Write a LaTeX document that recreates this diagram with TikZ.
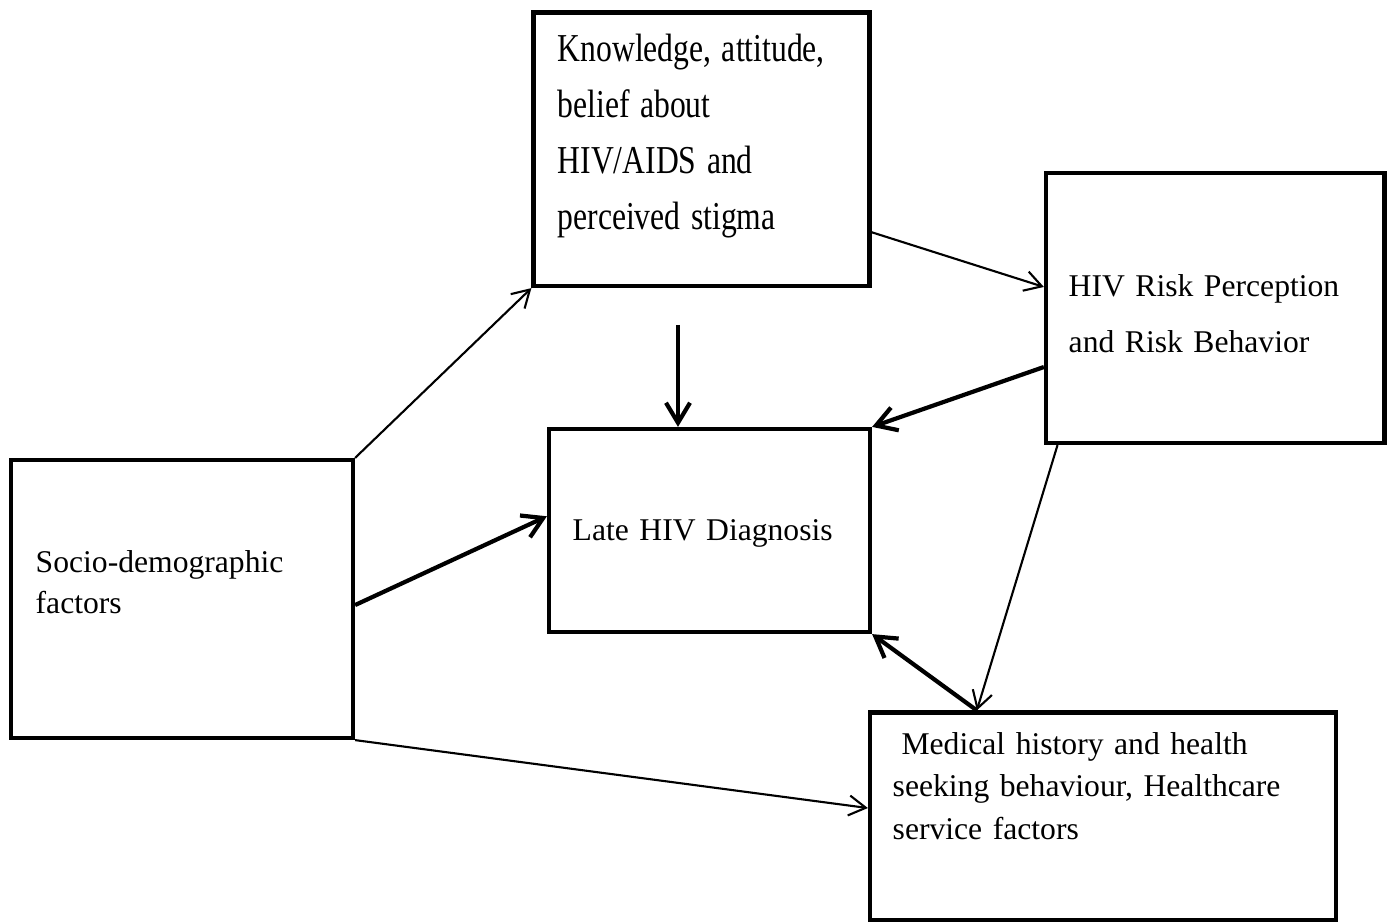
\documentclass[tikz,border=0pt]{standalone}
\usepackage{fontspec}
\setmainfont{Liberation Serif}
\usepackage{tikz}
\usetikzlibrary{arrows.meta}

\tikzset{
  box/.style={draw, line width=1.2pt, inner sep=0pt},
  txt/.style={inner sep=0pt, anchor=base west, align=left, text width=5cm},
  thinarrow/.style={line width=0.6pt, -{Straight Barb[length=1.7mm, width=2mm]}},
  thickarrow/.style={line width=1.2pt, -{Straight Barb[length=2mm, width=2.4mm]}}
}

\begin{document}
\begin{tikzpicture}
  \useasboundingbox (0,0) rectangle (13.88,9.23);

  % Draw the boxes
  \node[box, minimum width=3.36cm, minimum height=2.735cm] (know) at (7.015,7.7375) {};
  \node[box, minimum width=3.385cm, minimum height=2.70cm] (risk) at (12.1525,6.15) {};
  \node[box, minimum width=3.21cm, minimum height=2.03cm] (late) at (7.095,3.925) {};
  \node[box, minimum width=3.42cm, minimum height=2.78cm] (socio) at (1.82,3.24) {};
  \node[box, minimum width=4.66cm, minimum height=2.075cm] (med) at (11.03,1.0675) {};

  % Texts of the boxes
  \begin{scope}[shift={(5.57,8.61)}, yscale=1.25]
    \node[txt, transform shape, font={\fontsize{9}{12.7}\selectfont}] (knowtext) at (0,0)
      {Knowledge, attitude,\\ belief about\\ HIV/AIDS and\\ perceived stigma};
  \end{scope}
  \node[txt, font={\fontsize{9}{15.9}\selectfont}] (risktext) at (10.68,6.26)
    {HIV Risk Perception\\ and Risk Behavior};
  \node[txt, font={\fontsize{9}{12}\selectfont}] (latetext) at (5.72,3.83)
    {Late HIV Diagnosis};
  \node[txt, font={\fontsize{9}{11.7}\selectfont}] (sociotext) at (0.35,3.51)
    {Socio-demographic\\ factors};
  \node[txt, font={\fontsize{9}{12.2}\selectfont}] (medtext) at (8.92,1.69)
    {\hspace*{0.28em}Medical history and health\\ seeking behaviour, Healthcare\\ service factors};

  % Thin arrows
  \draw[thinarrow] (socio.north east) -- (know.south west);
  \draw[thinarrow] (know.-26.2) -- (risk.173.9);
  \draw[thinarrow] (risk.221.9) -- (med.140.3);
  \draw[thinarrow] (socio.south east) -- (med.178);

  % Thick arrows
  \coordinate (kstart) at (6.78,5.98);
  \draw[thickarrow] (kstart) -- (kstart |- late.north);
  \draw[thickarrow] (risk.199.2) -- (late.north east);
  \draw[thickarrow] (socio.-2.7) -- (late.175.2);
  \draw[thickarrow] (med.140.3) -- (late.south east);
\end{tikzpicture}
\end{document}
